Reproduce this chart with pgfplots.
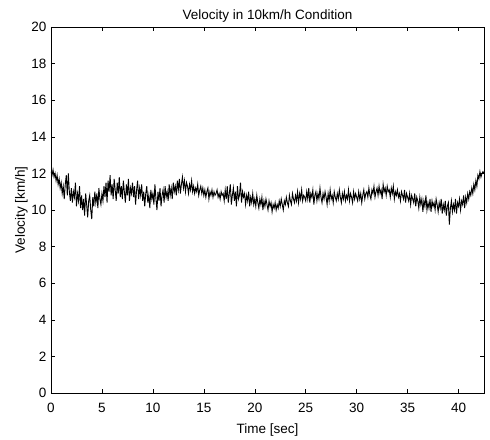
\documentclass[border=0pt]{standalone}
\usepackage{fontspec}
\setmainfont{Liberation Sans}
\usepackage{pgfplots}
\pgfplotsset{compat=1.18}
\usepackage{pgfplotstable}

% velocity samples, 0.1 s apart
\pgfplotstableread[row sep=\\]{
v\\
12.1\\ 11.9\\ 12.2\\ 11.8\\ 12.0\\ 11.6\\ 11.9\\ 11.4\\ 11.7\\ 11.2\\
11.5\\ 10.9\\ 11.3\\ 10.6\\ 11.4\\ 11.9\\ 10.8\\ 12.0\\ 11.0\\ 10.5\\
11.2\\ 10.4\\ 11.0\\ 10.7\\ 11.5\\ 10.2\\ 10.9\\ 10.5\\ 11.3\\ 10.1\\
10.8\\ 10.0\\ 10.6\\ 9.7\\ 10.9\\ 10.3\\ 9.6\\ 10.5\\ 10.8\\ 10.0\\
9.5\\ 10.7\\ 10.2\\ 11.0\\ 10.4\\ 10.9\\ 10.1\\ 11.2\\ 10.6\\ 10.3\\
10.9\\ 10.5\\ 11.3\\ 10.7\\ 11.5\\ 10.4\\ 11.6\\ 11.0\\ 11.9\\ 10.8\\
11.4\\ 10.6\\ 11.7\\ 11.1\\ 10.5\\ 11.5\\ 10.9\\ 11.8\\ 10.7\\ 11.3\\
10.6\\ 11.6\\ 11.0\\ 10.4\\ 11.4\\ 10.8\\ 11.7\\ 10.5\\ 11.2\\ 10.9\\
11.5\\ 10.7\\ 11.3\\ 10.3\\ 11.1\\ 11.6\\ 10.6\\ 11.2\\ 10.8\\ 11.4\\
10.5\\ 11.0\\ 10.2\\ 10.9\\ 11.3\\ 10.4\\ 10.8\\ 10.1\\ 11.1\\ 10.6\\
10.9\\ 10.3\\ 11.4\\ 10.6\\ 10.0\\ 11.0\\ 10.5\\ 11.2\\ 10.2\\ 10.8\\
11.1\\ 10.4\\ 11.3\\ 10.7\\ 11.0\\ 10.5\\ 11.4\\ 10.8\\ 11.2\\ 10.6\\
11.5\\ 11.0\\ 11.3\\ 10.8\\ 11.6\\ 11.1\\ 11.7\\ 10.9\\ 11.4\\ 11.8\\
11.2\\ 11.6\\ 11.0\\ 11.5\\ 11.3\\ 10.9\\ 11.4\\ 11.1\\ 11.6\\ 11.0\\
11.3\\ 10.9\\ 11.2\\ 11.0\\ 11.4\\ 10.8\\ 11.1\\ 11.3\\ 10.9\\ 11.2\\
10.8\\ 11.1\\ 10.7\\ 11.0\\ 11.2\\ 10.6\\ 11.0\\ 10.8\\ 11.1\\ 10.7\\
11.0\\ 10.8\\ 10.9\\ 11.1\\ 10.7\\ 10.9\\ 10.6\\ 11.0\\ 10.8\\ 10.9\\
10.5\\ 11.1\\ 10.6\\ 11.3\\ 10.4\\ 10.9\\ 11.4\\ 10.3\\ 10.8\\ 11.2\\
10.5\\ 11.0\\ 10.2\\ 11.3\\ 10.6\\ 10.8\\ 11.5\\ 10.4\\ 11.0\\ 10.7\\
10.9\\ 10.3\\ 10.8\\ 10.5\\ 11.0\\ 10.2\\ 10.7\\ 10.4\\ 10.9\\ 10.3\\
10.6\\ 10.2\\ 10.8\\ 10.4\\ 10.1\\ 10.6\\ 10.3\\ 10.7\\ 10.0\\ 10.5\\
10.2\\ 10.6\\ 10.3\\ 10.0\\ 10.5\\ 10.2\\ 10.4\\ 9.9\\ 10.3\\ 10.1\\
10.4\\ 10.0\\ 10.3\\ 10.1\\ 10.5\\ 10.2\\ 10.6\\ 10.3\\ 10.0\\ 10.5\\
10.3\\ 10.7\\ 10.4\\ 10.2\\ 10.8\\ 10.5\\ 10.3\\ 10.9\\ 10.6\\ 10.4\\
10.8\\ 10.5\\ 11.0\\ 10.4\\ 10.9\\ 10.6\\ 11.1\\ 10.5\\ 10.8\\ 10.7\\
10.5\\ 11.0\\ 10.6\\ 11.2\\ 10.4\\ 10.9\\ 10.7\\ 11.1\\ 10.3\\ 10.8\\
11.0\\ 10.5\\ 10.9\\ 10.6\\ 11.2\\ 10.7\\ 10.4\\ 10.9\\ 10.6\\ 11.0\\
10.7\\ 10.3\\ 10.9\\ 10.5\\ 11.1\\ 10.6\\ 10.8\\ 10.4\\ 11.0\\ 10.7\\
10.5\\ 10.9\\ 10.6\\ 11.1\\ 10.7\\ 10.4\\ 10.9\\ 10.6\\ 11.0\\ 10.5\\
10.8\\ 10.6\\ 11.1\\ 10.5\\ 10.9\\ 10.7\\ 10.4\\ 11.0\\ 10.6\\ 10.9\\
10.7\\ 10.5\\ 11.0\\ 10.6\\ 10.9\\ 10.4\\ 10.8\\ 11.1\\ 10.6\\ 10.9\\
11.0\\ 10.7\\ 11.2\\ 10.8\\ 10.6\\ 11.1\\ 10.9\\ 11.3\\ 10.7\\ 11.0\\
11.2\\ 10.8\\ 11.3\\ 10.9\\ 11.1\\ 10.6\\ 11.4\\ 11.0\\ 11.2\\ 10.8\\
11.3\\ 11.0\\ 11.1\\ 10.7\\ 11.2\\ 10.9\\ 11.3\\ 10.6\\ 11.0\\ 10.8\\
11.1\\ 10.7\\ 10.9\\ 10.5\\ 11.0\\ 10.8\\ 10.6\\ 11.1\\ 10.4\\ 10.9\\
10.7\\ 10.5\\ 10.9\\ 10.3\\ 10.8\\ 10.6\\ 10.4\\ 10.9\\ 10.2\\ 10.7\\
10.5\\ 10.1\\ 10.7\\ 10.3\\ 10.6\\ 9.9\\ 10.5\\ 10.2\\ 10.8\\ 10.0\\
10.4\\ 10.1\\ 10.6\\ 9.9\\ 10.5\\ 10.2\\ 10.4\\ 10.0\\ 10.6\\ 10.3\\
9.9\\ 10.4\\ 10.1\\ 10.6\\ 9.8\\ 10.3\\ 10.0\\ 10.5\\ 9.7\\ 10.2\\
10.4\\ 9.2\\ 10.1\\ 10.5\\ 9.9\\ 10.3\\ 10.0\\ 10.6\\ 9.8\\ 10.4\\
10.2\\ 10.6\\ 10.0\\ 10.5\\ 10.3\\ 10.8\\ 10.1\\ 10.7\\ 10.4\\ 10.9\\
10.6\\ 11.0\\ 10.8\\ 11.2\\ 10.9\\ 11.4\\ 11.1\\ 11.6\\ 11.3\\ 11.9\\
11.7\\ 12.1\\ 11.8\\ 12.0\\ 12.1\\ 12.0\\
}\veldata

\begin{document}
\begin{tikzpicture}
\begin{axis}[
    scale only axis,
    width=433pt, height=366pt,
    xmin=0, xmax=42.5,
    ymin=0, ymax=20,
    xtick={0,5,...,40},
    ytick={0,2,...,20},
    tick align=inside,
    xtick pos=both, ytick pos=both,
    major tick length=4pt,
    tick style={black, line width=0.5pt},
    axis line style={line width=0.6pt},
    /pgf/number format/assume math mode=true,
    tick label style={font=\fontsize{13.5pt}{15pt}\selectfont},
    label style={font=\fontsize{13.5pt}{15pt}\selectfont},
    title style={font=\fontsize{13.5pt}{15pt}\selectfont, yshift=-5pt},
    title={Velocity in 10km/h Condition},
    xlabel={Time [sec]},
    ylabel={Velocity [km/h]},
    xticklabel style={yshift=-7pt},
    yticklabel style={xshift=-1pt},
    xlabel style={yshift=-4pt},
    ylabel style={yshift=-3pt},
]
\addplot[black, line width=0.9pt, mark=none] table[x expr=\coordindex*0.1, y=v] {\veldata};
\end{axis}
\path (current axis.south west)+(-51pt,-46pt) rectangle ([shift={(6pt,27pt)}]current axis.north east);
\end{tikzpicture}
\end{document}
